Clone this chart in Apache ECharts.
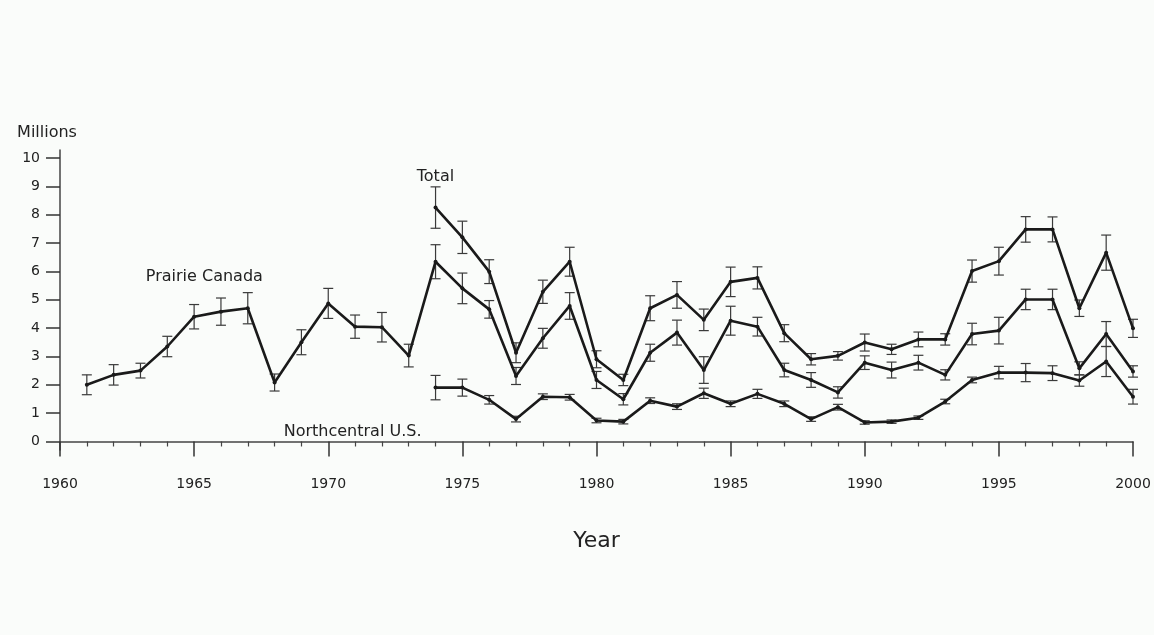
<!DOCTYPE html>
<html>
<head>
<meta charset="utf-8">
<script src="https://cdn.jsdelivr.net/npm/echarts@6/dist/echarts.min.js"></script>
<style>
html,body{margin:0;padding:0;background:#fafcfa;}
#c{width:1154px;height:635px;}
</style>
</head>
<body>
<div id="c"></div>
<script>
// ---- data ----
var prairieYears = [1961,1962,1963,1964,1965,1966,1967,1968,1969,1970,1971,1972,1973,1974,1975,1976,1977,1978,1979,1980,1981,1982,1983,1984,1985,1986,1987,1988,1989,1990,1991,1992,1993,1994,1995,1996,1997,1998,1999,2000];
var prairie = [2.0,2.35,2.5,3.35,4.4,4.58,4.7,2.08,3.5,4.87,4.05,4.03,3.03,6.34,5.4,4.66,2.31,3.64,4.78,2.17,1.49,3.13,3.84,2.52,4.26,4.05,2.52,2.17,1.73,2.78,2.52,2.78,2.35,3.79,3.91,5.01,5.01,2.58,3.79,2.47];
var prairieErr = [0.35,0.36,0.26,0.36,0.43,0.48,0.55,0.3,0.44,0.53,0.41,0.52,0.4,0.6,0.54,0.31,0.3,0.35,0.47,0.3,0.2,0.3,0.44,0.47,0.51,0.33,0.24,0.26,0.2,0.24,0.28,0.26,0.18,0.38,0.47,0.36,0.36,0.23,0.44,0.2];

var surveyYears = [1974,1975,1976,1977,1978,1979,1980,1981,1982,1983,1984,1985,1986,1987,1988,1989,1990,1991,1992,1993,1994,1995,1996,1997,1998,1999,2000];
var total = [8.25,7.2,5.99,3.13,5.28,6.34,2.9,2.17,4.7,5.17,4.29,5.63,5.77,3.82,2.9,3.02,3.49,3.25,3.6,3.6,6.01,6.36,7.48,7.48,4.7,6.66,3.99];
var totalErr = [0.73,0.57,0.42,0.35,0.41,0.51,0.3,0.2,0.44,0.47,0.38,0.52,0.39,0.3,0.2,0.15,0.3,0.18,0.26,0.2,0.39,0.49,0.45,0.44,0.29,0.62,0.32];
var northcentral = [1.9,1.9,1.47,0.79,1.58,1.56,0.74,0.7,1.44,1.23,1.7,1.33,1.68,1.33,0.79,1.21,0.67,0.7,0.84,1.41,2.17,2.43,2.43,2.41,2.15,2.82,1.58];
var northcentralErr = [0.43,0.3,0.15,0.1,0.1,0.1,0.08,0.08,0.1,0.1,0.18,0.1,0.16,0.1,0.08,0.1,0.06,0.06,0.06,0.08,0.1,0.22,0.32,0.26,0.2,0.53,0.26];

var yTickValues = [0,1,2,3,4,5,6,7,8,9,10];
var labels = [
  {text:'Prairie Canada', year:1963.2, value:5.8},
  {text:'Total', year:1973.3, value:9.33},
  {text:'Northcentral U.S.', year:1968.34, value:0.33}
];

// ---- build ----
function pairs(xs, ys){ return xs.map(function(x,i){ return [x, ys[i]]; }); }
function errs(xs, ys, es){ return xs.map(function(x,i){ return [x, ys[i]-es[i], ys[i]+es[i]]; }); }

var FONT = '"DejaVu Sans", Arial, sans-serif';
var INK = '#1a1a1a';

function errSeries(data){
  return {
    type:'custom',
    data:data,
    encode:{x:0, y:[1,2]},
    z:3,
    silent:true,
    renderItem:function(params, api){
      var x = api.value(0);
      var lo = api.coord([x, api.value(1)]);
      var hi = api.coord([x, api.value(2)]);
      var w = 5;
      var st = {stroke:'#3a3a3a', lineWidth:1.2};
      return {type:'group', children:[
        {type:'line', shape:{x1:lo[0], y1:lo[1], x2:hi[0], y2:hi[1]}, style:st},
        {type:'line', shape:{x1:lo[0]-w, y1:lo[1], x2:lo[0]+w, y2:lo[1]}, style:st},
        {type:'line', shape:{x1:hi[0]-w, y1:hi[1], x2:hi[0]+w, y2:hi[1]}, style:st}
      ]};
    }
  };
}
function lineSeries(data){
  return {
    type:'line', data:data, z:4, silent:true,
    symbol:'circle', symbolSize:4,
    itemStyle:{color:INK},
    lineStyle:{color:INK, width:2.6},
    animation:false
  };
}

var chart = echarts.init(document.getElementById('c'));
chart.setOption({
  backgroundColor:'#fafcfa',
  animation:false,
  grid:{left:60, right:21, top:150, bottom:185, containLabel:false},
  xAxis:{
    type:'value', min:1960, max:2000, interval:5,
    name:'Year', nameLocation:'middle', nameGap:80,
    nameTextStyle:{fontFamily:FONT, fontSize:22, color:'#222'},
    axisLine:{show:true, lineStyle:{color:'#444', width:1.5}},
    axisTick:{show:true, length:15, lineStyle:{color:'#333', width:1.5}},
    minorTick:{show:true, splitNumber:5, length:5, lineStyle:{color:'#444', width:1.2}},
    axisLabel:{margin:27, fontFamily:FONT, fontSize:14, color:'#222', formatter:function(v){ return String(v); }},
    splitLine:{show:false}
  },
  yAxis:{
    type:'value', min:-0.3, max:10.28,
    name:'Millions', nameLocation:'end', nameGap:9,
    nameTextStyle:{fontFamily:FONT, fontSize:16, color:'#222', padding:[0,26,0,0]},
    axisLine:{show:true, lineStyle:{color:'#444', width:1.5}},
    axisTick:{show:true, length:14, customValues:yTickValues, lineStyle:{color:'#333', width:1.5}},
    axisLabel:{margin:20, customValues:yTickValues, fontFamily:FONT, fontSize:14, color:'#222'},
    splitLine:{show:false}
  },
  series:[
    errSeries(errs(prairieYears, prairie, prairieErr)),
    errSeries(errs(surveyYears, total, totalErr)),
    errSeries(errs(surveyYears, northcentral, northcentralErr)),
    lineSeries(pairs(prairieYears, prairie)),
    lineSeries(pairs(surveyYears, total)),
    lineSeries(pairs(surveyYears, northcentral))
  ]
});

chart.setOption({
  graphic: labels.map(function(l){
    var p = chart.convertToPixel({gridIndex:0}, [l.year, l.value]);
    return {type:'text', x:p[0], y:p[1], z:10,
      style:{text:l.text, font:'16px ' + FONT, fill:'#222', textAlign:'left', textVerticalAlign:'middle'}};
  })
});
</script>
</body>
</html>
